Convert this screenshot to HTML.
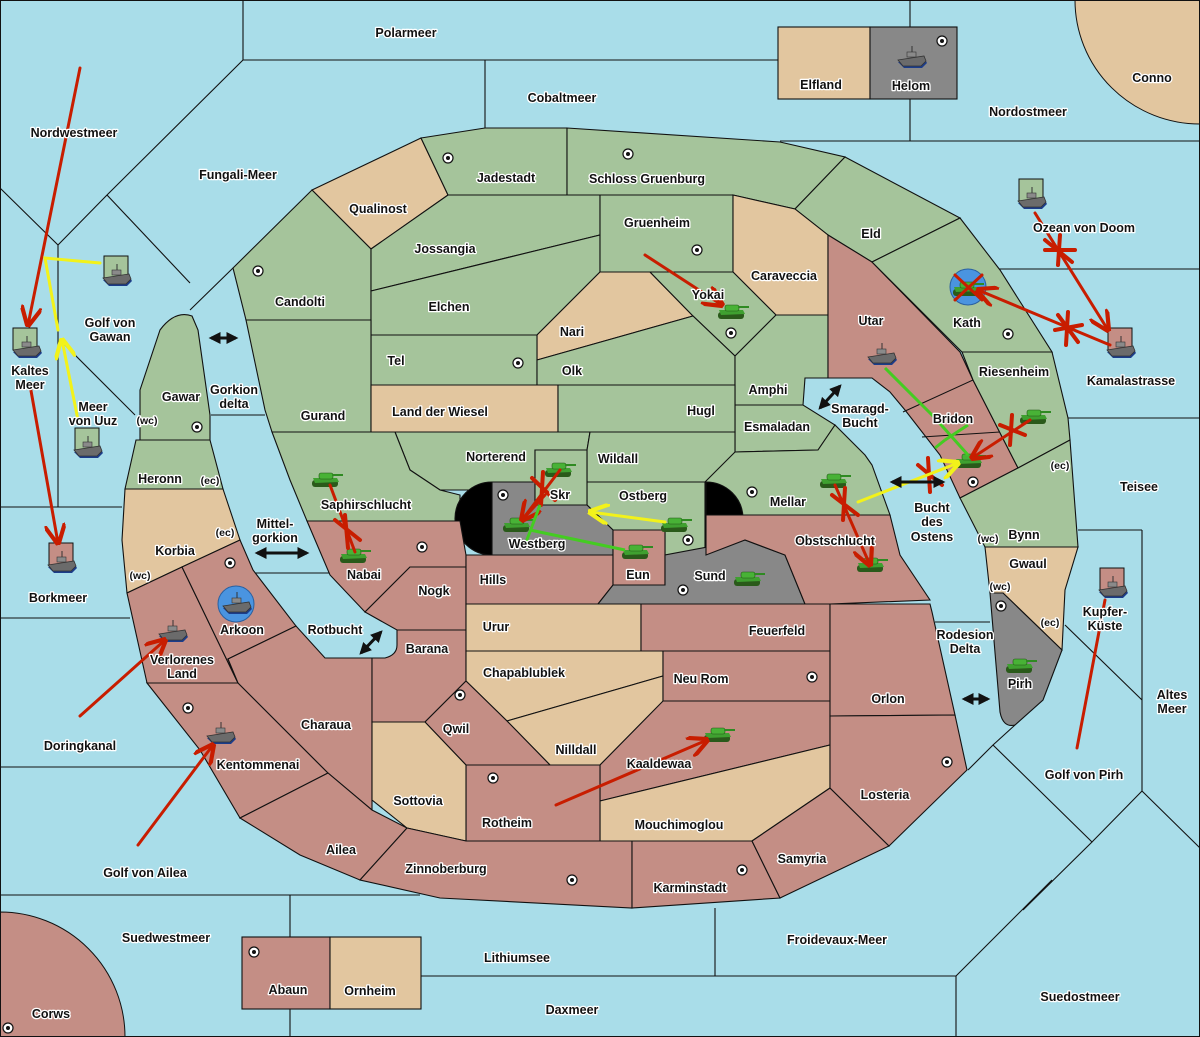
<!DOCTYPE html>
<html><head><meta charset="utf-8"><style>
html,body{margin:0;padding:0;background:#a9dde9}
svg{display:block}
text{font-family:"Liberation Sans","DejaVu Sans",sans-serif;font-weight:bold;font-size:12.5px;fill:#111;stroke:#fff;stroke-width:2.6px;paint-order:stroke;stroke-linejoin:round;text-anchor:middle}
.g{fill:#a5c49b}.t{fill:#e2c69f}.r{fill:#c48e85}.k{fill:#888}
.reg polygon,.reg rect,.reg path{stroke:#111;stroke-width:1.1}
.sl{stroke:#111;stroke-width:1.1;fill:none}
</style></head><body>
<svg width="1200" height="1037" viewBox="0 0 1200 1037" xmlns="http://www.w3.org/2000/svg">
<defs>
<g id="ship"><path d="M-14,2 L12,-2 L15,3 L10,8 L-8,8 Z" fill="#1c3d8a"/><path d="M-14,0 L12,-4 L14,1 L9,6 L-9,6 Z" fill="#6b6b6b" stroke="#333" stroke-width="0.8"/><rect x="-5" y="-8" width="9" height="5" fill="#8a8a8a" stroke="#333" stroke-width="0.6"/><line x1="0" y1="-14" x2="0" y2="-8" stroke="#333" stroke-width="1"/></g>
<g id="tank"><rect x="-15" y="1" width="26" height="7" rx="3" fill="#2a5a1a"/><path d="M-14,-1 L10,-1 L12,3 L-12,4 Z" fill="#3fa030"/><rect x="-8" y="-6" width="14" height="6" rx="2" fill="#48b236" stroke="#225515" stroke-width="0.6"/><rect x="5" y="-5" width="11" height="2" fill="#2f8a22"/></g>
<g id="dot"><circle r="5" fill="#fff" stroke="#111" stroke-width="1.2"/><circle r="2" fill="#111"/></g>
<marker id="ar" viewBox="0 0 10 10" refX="9" refY="5" markerWidth="7" markerHeight="7" orient="auto"><path d="M0,0 L10,5 L0,10" fill="none" stroke="#c81d00" stroke-width="2"/></marker>
<marker id="ay" viewBox="0 0 10 10" refX="9" refY="5" markerWidth="7" markerHeight="7" orient="auto"><path d="M0,0 L10,5 L0,10" fill="none" stroke="#f2f21a" stroke-width="2"/></marker>
<marker id="ab" viewBox="0 0 10 10" refX="8" refY="5" markerWidth="4" markerHeight="4" orient="auto-start-reverse"><path d="M0,0 L10,5 L0,10 Z" fill="#111"/></marker>
</defs>
<rect width="1200" height="1037" fill="#a9dde9"/>
<g class="sl">
<polyline points="243,0 243,60 778,60"/><line x1="485" y1="60" x2="485" y2="128"/>
<line x1="910" y1="0" x2="910" y2="141"/><line x1="780" y1="141" x2="1200" y2="141"/>
<polyline points="243,60 107,195 58,245 0,188"/><line x1="107" y1="195" x2="190" y2="283"/>
<line x1="58" y1="245" x2="58" y2="507"/><line x1="0" y1="507" x2="122" y2="507"/>
<line x1="65" y1="345" x2="135" y2="415"/>
<line x1="0" y1="618" x2="130" y2="618"/><line x1="0" y1="767" x2="195" y2="767"/>
<line x1="0" y1="895" x2="420" y2="895"/><line x1="290" y1="895" x2="290" y2="1037"/>
<line x1="421" y1="976" x2="956" y2="976"/><line x1="715" y1="908" x2="715" y2="976"/>
<line x1="956" y1="976" x2="956" y2="1037"/><line x1="956" y1="976" x2="1052" y2="880"/>
<line x1="997" y1="269" x2="1200" y2="269"/><line x1="1065" y1="418" x2="1200" y2="418"/>
<line x1="1078" y1="530" x2="1142" y2="530"/><line x1="1142" y1="530" x2="1142" y2="791"/>
<line x1="1065" y1="625" x2="1142" y2="700"/>
<polyline points="1015,725 993,745 968,770"/><polyline points="993,745 1092,842 1142,791 1200,848"/><line x1="1092" y1="842" x2="1023" y2="910"/>
<line x1="935" y1="622" x2="990" y2="622"/><line x1="211" y1="415" x2="265" y2="415"/>
<line x1="253" y1="573" x2="330" y2="573"/>
<line x1="190" y1="310" x2="233" y2="268"/>
</g>
<path d="M1075,0 A125,124 0 0 0 1200,124 L1200,0 Z" fill="#e2c69f" stroke="#111"/>
<path d="M0,912 A125,125 0 0 1 125,1037 L0,1037 Z" fill="#c48e85" stroke="#111"/>
<g class="reg">
<rect x="778" y="27" width="92" height="72" class="t"/><rect x="870" y="27" width="87" height="72" class="k"/>
<rect x="242" y="937" width="88" height="72" class="r"/><rect x="330" y="937" width="91" height="72" class="t"/>
<polygon class="t" points="312,190 421,138 448,195 371,249"/>
<polygon class="g" points="421,138 485,128 567,128 567,195 448,195"/>
<polygon class="g" points="567,128 780,142 845,157 795,209 733,195 567,195"/>
<polygon class="g" points="845,157 960,218 872,262 828,235 795,209"/>
<polygon class="g" points="233,268 312,190 371,249 371,320 246,320"/>
<polygon class="g" points="371,249 448,195 600,195 600,235 371,291"/>
<polygon class="g" points="371,291 600,235 600,272 537,335 371,335"/>
<polygon class="g" points="600,195 733,195 733,272 600,272"/>
<polygon class="t" points="733,195 795,209 828,235 828,315 776,315 733,272"/>
<polygon class="t" points="537,335 600,272 650,272 693,316 537,360"/>
<polygon class="g" points="650,272 733,272 776,315 735,356 693,316"/>
<polygon class="g" points="371,335 537,335 537,385 371,385"/>
<polygon class="g" points="537,360 693,316 735,356 735,385 537,385"/>
<polygon class="g" points="735,356 776,315 828,315 828,378 805,378 803,405 735,405"/>
<polygon class="g" points="735,405 803,405 835,425 818,450 735,452"/>
<polygon class="g" points="246,320 371,320 371,432 272,432 265,410"/>
<polygon class="t" points="371,385 558,385 558,432 371,432"/>
<polygon class="g" points="558,385 735,385 735,432 558,432"/>
<polygon class="g" points="395,432 590,432 587,450 535,450 535,482 470,490 440,490 410,470"/>
<polygon class="g" points="590,432 735,432 735,470 705,482 587,482 587,450"/>
<polygon class="g" points="272,432 395,432 410,470 440,490 460,495 460,521 307,521 290,480"/>
<polygon class="g" points="705,482 735,452 818,450 835,425 865,455 872,465 890,515 745,515 705,515"/>
<polygon class="g" points="587,482 705,482 705,555 665,555 665,530 613,530 587,505"/>
<path d="M492,482 A37,36.5 0 0 0 492,555 Z" fill="#000"/>
<path d="M706,482 A37,36.5 0 0 1 706,555 Z" fill="#000"/>
<polygon class="k" points="492,482 535,482 535,505 587,505 613,530 613,555 492,555"/>
<polygon class="g" points="535,450 587,450 587,505 535,505"/>
<path class="g" d="M140,390 L160,330 Q175,310 192,316 L198,330 L210,415 L210,440 L197,440 L140,440 Z"/>
<polygon class="g" points="140,440 210,440 223,489 125,489 136,440"/>
<polygon class="t" points="125,489 223,489 240,540 182,567 127,593 122,540"/>
<polygon class="r" points="127,593 182,567 238,683 147,683"/>
<polygon class="r" points="182,567 240,540 253,570 296,626 228,659 238,683"/>
<polygon class="r" points="147,683 238,683 328,773 240,818 200,750"/>
<polygon class="r" points="228,659 296,626 325,658 372,658 372,810 328,773 238,683"/>
<polygon class="r" points="240,818 328,773 372,810 407,828 360,880 300,855"/>
<polygon class="r" points="307,521 460,521 466,555 466,567 410,567 365,612 330,575"/>
<polygon class="r" points="365,612 410,567 466,567 466,630 397,630"/>
<path class="r" d="M397,630 L466,630 L466,681 L425,722 L372,722 L372,658 L385,658 Q397,655 397,645 Z"/>
<polygon class="r" points="466,555 613,555 613,585 598,604 466,604"/>
<polygon class="r" points="613,530 665,530 665,585 613,585"/>
<polygon class="k" points="598,604 613,585 665,585 665,555 745,540 785,555 805,604"/>
<polygon class="r" points="745,515 890,515 900,555 930,600 830,604 805,604 785,555 745,540 706,555 706,515"/>
<polygon class="t" points="466,604 641,604 641,651 466,651"/>
<polygon class="r" points="641,604 830,604 830,651 641,651"/>
<polygon class="t" points="466,651 663,651 663,676 507,721 466,681"/>
<polygon class="t" points="507,721 663,676 663,702 600,765 550,765"/>
<polygon class="r" points="663,651 830,651 830,701 663,701"/>
<polygon class="r" points="600,765 663,701 830,701 830,745 600,801"/>
<polygon class="t" points="600,801 830,745 830,788 752,841 600,841"/>
<polygon class="r" points="466,765 600,765 600,841 466,841"/>
<polygon class="r" points="466,681 507,721 550,765 466,765 425,722"/>
<polygon class="t" points="372,722 425,722 466,765 466,841 407,828 372,800"/>
<polygon class="r" points="407,828 466,841 632,841 632,908 440,898 360,880"/>
<polygon class="r" points="632,841 752,841 780,898 632,908"/>
<polygon class="r" points="752,841 830,788 889,846 780,898"/>
<polygon class="r" points="830,604 930,604 932,612 955,715 830,716"/>
<polygon class="r" points="830,716 955,715 967,770 889,846 830,788"/>
<polygon class="r" points="828,235 872,262 960,352 973,380 1018,468 960,498 940,455 905,410 890,392 872,378 828,378"/>
<line x1="903" y1="412" x2="973" y2="380" stroke="#111"/><line x1="922" y1="437" x2="1000" y2="432" stroke="#111"/>
<polygon class="g" points="872,262 960,218 1000,270 1052,352 962,352"/>
<polygon class="g" points="962,352 1052,352 1068,418 1070,440 1018,468 973,380"/>
<polygon class="g" points="1018,468 1070,440 1078,547 985,547 960,498"/>
<polygon class="t" points="985,547 1078,547 1065,590 1062,650 1003,593 990,593"/>
<path class="k" d="M990,593 L1003,593 L1062,650 L1043,700 L1015,725 Q1003,728 1000,712 Z"/>
</g>
<g>
<use href="#dot" x="448" y="158"/><use href="#dot" x="628" y="154"/><use href="#dot" x="258" y="271"/><use href="#dot" x="697" y="250"/><use href="#dot" x="518" y="363"/><use href="#dot" x="731" y="333"/><use href="#dot" x="1008" y="334"/><use href="#dot" x="197" y="427"/><use href="#dot" x="973" y="482"/><use href="#dot" x="422" y="547"/><use href="#dot" x="688" y="540"/><use href="#dot" x="752" y="492"/><use href="#dot" x="503" y="495"/><use href="#dot" x="230" y="563"/><use href="#dot" x="683" y="590"/><use href="#dot" x="1001" y="606"/><use href="#dot" x="812" y="677"/><use href="#dot" x="460" y="695"/><use href="#dot" x="188" y="708"/><use href="#dot" x="947" y="762"/><use href="#dot" x="493" y="778"/><use href="#dot" x="742" y="870"/><use href="#dot" x="572" y="880"/><use href="#dot" x="254" y="952"/><use href="#dot" x="8" y="1028"/><use href="#dot" x="942" y="41"/>
</g>
<g stroke="#111" stroke-width="1">
<rect x="13" y="328" width="24" height="22" class="g"/><rect x="104" y="256" width="24" height="22" class="g"/><rect x="75" y="428" width="24" height="22" class="g"/><rect x="49" y="543" width="24" height="22" class="r"/><rect x="1019" y="179" width="24" height="22" class="g"/><rect x="1108" y="328" width="24" height="22" class="r"/><rect x="1100" y="568" width="24" height="22" class="r"/>
</g>
<circle cx="236" cy="604" r="18" fill="#4a94e0" stroke="#2a60a0"/>
<circle cx="968" cy="287" r="18" fill="#4a94e0" stroke="#2a60a0"/>
<use href="#ship" x="27" y="350"/><use href="#ship" x="117" y="278"/><use href="#ship" x="88" y="450"/><use href="#ship" x="62" y="565"/><use href="#ship" x="1032" y="201"/><use href="#ship" x="1121" y="350"/><use href="#ship" x="1113" y="590"/><use href="#ship" x="912" y="60"/><use href="#ship" x="237" y="606"/><use href="#ship" x="173" y="634"/><use href="#ship" x="221" y="736"/><use href="#ship" x="882" y="357"/>
<use href="#tank" x="733" y="311"/><use href="#tank" x="968" y="288"/><use href="#tank" x="1035" y="416"/><use href="#tank" x="970" y="460"/><use href="#tank" x="835" y="480"/><use href="#tank" x="872" y="564"/><use href="#tank" x="327" y="479"/><use href="#tank" x="355" y="555"/><use href="#tank" x="560" y="469"/><use href="#tank" x="518" y="524"/><use href="#tank" x="676" y="524"/><use href="#tank" x="637" y="551"/><use href="#tank" x="749" y="578"/><use href="#tank" x="719" y="734"/><use href="#tank" x="1021" y="665"/>
<g stroke="#c81d00" stroke-width="3" fill="none" stroke-linecap="round">
<line x1="80" y1="68" x2="28" y2="325" marker-end="url(#ar)"/>
<line x1="30" y1="385" x2="58" y2="543" marker-end="url(#ar)"/>
<line x1="80" y1="716" x2="165" y2="640" marker-end="url(#ar)"/>
<line x1="138" y1="845" x2="213" y2="745" marker-end="url(#ar)"/>
<line x1="645" y1="255" x2="722" y2="305" marker-end="url(#ar)"/>
<line x1="556" y1="805" x2="707" y2="740" marker-end="url(#ar)"/>
<line x1="1035" y1="213" x2="1108" y2="330" marker-end="url(#ar)"/>
<line x1="1110" y1="345" x2="978" y2="290" marker-end="url(#ar)"/>
<line x1="1030" y1="420" x2="972" y2="458" marker-end="url(#ar)"/>
<line x1="1105" y1="600" x2="1077" y2="748"/>
<line x1="835" y1="485" x2="870" y2="565" marker-end="url(#ar)"/>
<line x1="330" y1="485" x2="355" y2="552"/>
<line x1="560" y1="470" x2="522" y2="520" marker-end="url(#ar)"/>
<line x1="545" y1="495" x2="522" y2="520"/>
</g>
<g stroke="#c81d00" stroke-width="4" stroke-linecap="round">
<path d="M1045,240 L1072,262 M1045,250 L1075,250 M1060,235 L1058,265"/>
<path d="M1058,315 L1078,342 M1055,330 L1082,325 M1068,312 L1066,345"/>
<path d="M1000,425 L1025,435 M1012,415 L1010,445"/>
<path d="M918,465 L942,485 M928,458 L930,492"/>
<path d="M832,495 L858,515 M845,488 L843,520"/>
<path d="M335,520 L360,540 M345,515 L348,548"/>
<path d="M532,478 L555,500 M543,472 L541,505"/>
<path d="M955,275 L982,300 M955,300 L982,275" stroke-width="3"/>
</g>
<g stroke="#f2f21a" stroke-width="3" fill="none" stroke-linecap="round">
<polyline points="100,263 45,258 58,330"/>
<line x1="78" y1="420" x2="62" y2="340" marker-end="url(#ay)"/>
<line x1="665" y1="522" x2="590" y2="512" marker-end="url(#ay)"/>
<line x1="858" y1="502" x2="958" y2="463" marker-end="url(#ay)"/>
</g>
<g stroke="#44cc22" stroke-width="3" fill="none">
<polyline points="885,368 935,418 968,455"/><line x1="945" y1="440" x2="968" y2="425"/><line x1="935" y1="448" x2="945" y2="440"/>
<line x1="530" y1="530" x2="625" y2="550"/><line x1="540" y1="505" x2="525" y2="545"/>
</g>
<g stroke="#111" stroke-width="3" marker-start="url(#ab)" marker-end="url(#ab)">
<line x1="211" y1="338" x2="236" y2="338"/><line x1="257" y1="553" x2="307" y2="553"/><line x1="361" y1="653" x2="381" y2="632"/><line x1="820" y1="408" x2="840" y2="386"/><line x1="892" y1="482" x2="943" y2="482"/><line x1="964" y1="699" x2="988" y2="699"/>
</g>
<g>
<text x="406" y="37">Polarmeer</text><text x="562" y="102">Cobaltmeer</text><text x="821" y="89">Elfland</text><text x="911" y="90">Helom</text><text x="1152" y="82">Conno</text><text x="1028" y="116">Nordostmeer</text><text x="74" y="137">Nordwestmeer</text><text x="238" y="179">Fungali-Meer</text><text x="506" y="182">Jadestadt</text><text x="647" y="183">Schloss Gruenburg</text><text x="378" y="213">Qualinost</text><text x="657" y="227">Gruenheim</text><text x="871" y="238">Eld</text><text x="1084" y="232">Ozean von Doom</text><text x="445" y="253">Jossangia</text><text x="784" y="280">Caraveccia</text><text x="300" y="306">Candolti</text><text x="708" y="299">Yokai</text><text x="449" y="311">Elchen</text><text x="110" y="327">Golf von</text><text x="110" y="341">Gawan</text><text x="871" y="325">Utar</text><text x="967" y="327">Kath</text><text x="572" y="336">Nari</text><text x="1131" y="385">Kamalastrasse</text><text x="396" y="365">Tel</text><text x="572" y="375">Olk</text><text x="30" y="375">Kaltes</text><text x="30" y="389">Meer</text><text x="1014" y="376">Riesenheim</text><text x="768" y="394">Amphi</text><text x="181" y="401">Gawar</text><text x="234" y="394">Gorkion</text><text x="234" y="408">delta</text><text x="93" y="411">Meer</text><text x="93" y="425">von Uuz</text><text x="440" y="416">Land der Wiesel</text><text x="323" y="420">Gurand</text><text x="701" y="415">Hugl</text><text x="860" y="413">Smaragd-</text><text x="860" y="427">Bucht</text><text x="953" y="423">Bridon</text><text x="147" y="424" style="font-size:10.5px">(wc)</text><text x="777" y="431">Esmaladan</text><text x="496" y="461">Norterend</text><text x="618" y="463">Wildall</text><text x="1060" y="469" style="font-size:10.5px">(ec)</text><text x="160" y="483">Heronn</text><text x="210" y="484" style="font-size:10.5px">(ec)</text><text x="1139" y="491">Teisee</text><text x="560" y="499">Skr</text><text x="643" y="500">Ostberg</text><text x="788" y="506">Mellar</text><text x="366" y="509">Saphirschlucht</text><text x="932" y="512">Bucht</text><text x="932" y="526">des</text><text x="932" y="541">Ostens</text><text x="275" y="528">Mittel-</text><text x="275" y="542">gorkion</text><text x="225" y="536" style="font-size:10.5px">(ec)</text><text x="1024" y="539">Bynn</text><text x="988" y="542" style="font-size:10.5px">(wc)</text><text x="835" y="545">Obstschlucht</text><text x="537" y="548">Westberg</text><text x="175" y="555">Korbia</text><text x="1028" y="568">Gwaul</text><text x="364" y="579">Nabai</text><text x="140" y="579" style="font-size:10.5px">(wc)</text><text x="638" y="579">Eun</text><text x="710" y="580">Sund</text><text x="493" y="584">Hills</text><text x="434" y="595">Nogk</text><text x="1000" y="590" style="font-size:10.5px">(wc)</text><text x="58" y="602">Borkmeer</text><text x="1105" y="616">Kupfer-</text><text x="1105" y="630">Küste</text><text x="1050" y="626" style="font-size:10.5px">(ec)</text><text x="496" y="631">Urur</text><text x="335" y="634">Rotbucht</text><text x="242" y="634">Arkoon</text><text x="777" y="635">Feuerfeld</text><text x="965" y="639">Rodesion</text><text x="965" y="653">Delta</text><text x="427" y="653">Barana</text><text x="182" y="664">Verlorenes</text><text x="182" y="678">Land</text><text x="524" y="677">Chapablublek</text><text x="701" y="683">Neu Rom</text><text x="1020" y="688">Pirh</text><text x="1172" y="699">Altes</text><text x="1172" y="713">Meer</text><text x="888" y="703">Orlon</text><text x="326" y="729">Charaua</text><text x="456" y="733">Qwil</text><text x="80" y="750">Doringkanal</text><text x="576" y="754">Nilldall</text><text x="659" y="768">Kaaldewaa</text><text x="258" y="769">Kentommenai</text><text x="1084" y="779">Golf von Pirh</text><text x="885" y="799">Losteria</text><text x="418" y="805">Sottovia</text><text x="507" y="827">Rotheim</text><text x="679" y="829">Mouchimoglou</text><text x="341" y="854">Ailea</text><text x="802" y="863">Samyria</text><text x="446" y="873">Zinnoberburg</text><text x="145" y="877">Golf von Ailea</text><text x="690" y="892">Karminstadt</text><text x="166" y="942">Suedwestmeer</text><text x="837" y="944">Froidevaux-Meer</text><text x="517" y="962">Lithiumsee</text><text x="288" y="994">Abaun</text><text x="370" y="995">Ornheim</text><text x="1080" y="1001">Suedostmeer</text><text x="572" y="1014">Daxmeer</text><text x="51" y="1018">Corws</text>
</g>
<rect x="0.5" y="0.5" width="1199" height="1036" fill="none" stroke="#111"/>
</svg>
</body></html>
